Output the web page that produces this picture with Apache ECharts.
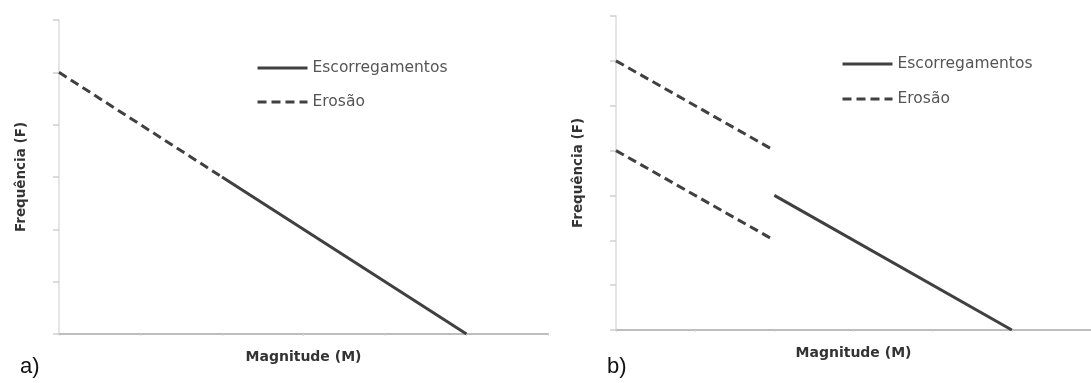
<!DOCTYPE html>
<html>
<head>
<meta charset="utf-8">
<script src="https://cdn.jsdelivr.net/npm/echarts@6/dist/echarts.min.js"></script>
<style>
  html, body { margin: 0; padding: 0; background: #fff; }
  #chart { width: 1091px; height: 383px; }
</style>
</head>
<body>
<div id="chart"></div>
<script>
// Magnitude–frequency schematic: (a) one continuous relation, (b) separate relations
const seriesNames = ['Escorregamentos', 'Erosão'];
const axisTitleX = 'Magnitude (M)';
const axisTitleY = 'Frequência (F)';
const panelLabels = ['a)', 'b)'];

// panel a: [magnitude, frequency]
const erosionA = [[0, 5], [2, 3]];
const landslideA = [[2, 3], [5, 0]];

// panel b
const erosionHighB = [[0, 6], [2, 4]];
const erosionLowB = [[0, 4], [2, 2]];
const landslideB = [[2, 3], [5, 0]];

// axis extents (no tick labels are drawn)
const xMax = 6;
const yMaxA = 6;
const yMaxB = 7;

const ink = '#404040';
const dash = [9, 5];

function valueAxisX(gridIndex) {
  return {
    type: 'value', gridIndex, min: 0, max: xMax, interval: 1,
    name: axisTitleX, nameLocation: 'middle', nameGap: 16,
    nameTextStyle: { fontFamily: 'DejaVu Sans', fontWeight: 'bold', fontSize: 14, color: '#333' },
    axisLine: { show: true, lineStyle: { color: '#bdbdbd', width: 2 } },
    axisTick: { show: true, length: 2, lineStyle: { color: '#d8d8d8' } },
    axisLabel: { show: false },
    splitLine: { show: false }
  };
}
function valueAxisY(gridIndex, max) {
  return {
    type: 'value', gridIndex, min: 0, max: max, interval: 1,
    name: axisTitleY, nameLocation: 'middle', nameGap: 31, nameRotate: 90,
    nameTextStyle: { fontFamily: 'DejaVu Sans', fontWeight: 'bold', fontSize: 13.5, color: '#333' },
    axisLine: { show: true, lineStyle: { color: '#dcdcdc', width: 1.5 } },
    axisTick: { show: true, length: 6, lineStyle: { color: '#d0d0d0', width: 1.5 } },
    axisLabel: { show: false },
    splitLine: { show: false }
  };
}
function lineSeries(name, data, gridIndex, dashed) {
  return {
    type: 'line', name, data, xAxisIndex: gridIndex, yAxisIndex: gridIndex,
    symbol: 'none', silent: true,
    lineStyle: { color: ink, width: 3, type: dashed ? dash : 'solid' },
    itemStyle: { color: ink }
  };
}
const legendText = { fontFamily: 'DejaVu Sans', fontSize: 15.5, color: '#555' };
function legendBox(left, top, gap) {
  return {
    orient: 'vertical', left, top, padding: 0,
    itemWidth: 50, itemHeight: 14, itemGap: gap,
    data: seriesNames, textStyle: legendText, selectedMode: false,
    itemStyle: { opacity: 0 },
    lineStyle: { width: 3 }
  };
}

const chart = echarts.init(document.getElementById('chart'), null, { renderer: 'canvas' });
chart.setOption({
  animation: false,
  backgroundColor: '#ffffff',
  grid: [
    { left: 59, top: 20, width: 489, height: 314 },
    { left: 616, top: 16, width: 486, height: 314 }
  ],
  xAxis: [valueAxisX(0), valueAxisX(1)],
  yAxis: [valueAxisY(0, yMaxA), valueAxisY(1, yMaxB)],
  legend: [legendBox(256, 60, 18), legendBox(841, 56, 19)],
  graphic: [
    { type: 'text', left: 20, top: 356, style: { text: panelLabels[0], font: '22px "Liberation Sans"', fill: '#111' } },
    { type: 'text', left: 607, top: 356, style: { text: panelLabels[1], font: '22px "Liberation Sans"', fill: '#111' } }
  ],
  series: [
    lineSeries(seriesNames[1], erosionA, 0, true),
    lineSeries(seriesNames[0], landslideA, 0, false),
    lineSeries(seriesNames[1], erosionHighB, 1, true),
    lineSeries(seriesNames[1], erosionLowB, 1, true),
    lineSeries(seriesNames[0], landslideB, 1, false)
  ]
});
</script>
</body>
</html>
